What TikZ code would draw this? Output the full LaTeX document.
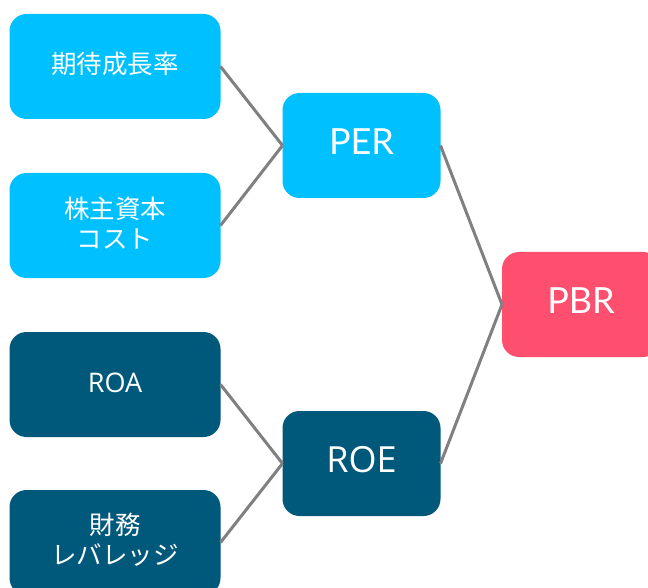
\documentclass[tikz,border=0pt]{standalone}
\usepackage{fontspec}
\setmainfont{Lato}
\newfontfamily\jpfont{Noto Sans CJK JP}
\newfontfamily\osfont{Open Sans}
\definecolor{lb}{HTML}{00C0FF}
\definecolor{db}{HTML}{00587A}
\definecolor{pk}{HTML}{FF4F6E}
\definecolor{ln}{HTML}{808080}
\begin{document}
\begin{tikzpicture}[x=1pt,y=-1pt,
  box/.style={rounded corners=17pt, inner sep=0pt, outer sep=0pt, minimum height=105pt},
  leftbox/.style={box, minimum width=211pt},
  midbox/.style={box, minimum width=158pt},
  light/.style={fill=lb},
  dark/.style={fill=db},
  pink/.style={fill=pk},
  jptxt/.style={text=white, align=center, font=\jpfont\fontsize{25.5}{30}\selectfont, inner sep=0pt},
  smalltxt/.style={text=white, font=\osfont\fontsize{27}{30}\selectfont, inner sep=0pt},
  bigtxt/.style={text=white, font=\fontsize{36}{40}\selectfont, inner sep=0pt},
  roetxt/.style={text=white, font=\osfont\fontsize{36}{40}\selectfont, inner sep=0pt},
  conn/.style={draw=ln, line width=3pt}
]
\useasboundingbox (0,0) rectangle (648,588);
\clip (0,0) rectangle (648,588);
\fill[white] (0,0) rectangle (648,588);

\node[leftbox, light] (q1) at (115,66.5) {};
\node[leftbox, light] (q2) at (115,225.5) {};
\node[leftbox, dark] (q3) at (115,384.5) {};
\node[leftbox, dark] (q4) at (115,542.5) {};
\node[midbox, light] (per) at (361.5,145.5) {};
\node[midbox, dark] (roe) at (361.5,463.5) {};
\node[midbox, pink] (pbr) at (581,304.5) {};

\node[jptxt] (t1) at ([yshift=3pt]q1.center) {期待成長率};
\node[jptxt] (t2) at ([yshift=2.5pt]q2.center) {株主資本\\コスト};
\node[smalltxt] (t3) at ([yshift=1.5pt]q3.center) {ROA};
\node[jptxt] (t4) at ([yshift=2.5pt]q4.center) {財務\\レバレッジ};
\node[bigtxt] (t5) at ([yshift=4pt]per.center) {PER};
\node[roetxt] (t6) at ([yshift=4pt]roe.center) {ROE};
\node[bigtxt] (t7) at ([yshift=4pt]pbr.center) {PBR};

\draw[conn] (q1.east) -- (per.west);
\draw[conn] (q2.east) -- (per.west);
\draw[conn] (q3.east) -- (roe.west);
\draw[conn] (q4.east) -- (roe.west);
\draw[conn] (per.east) -- (pbr.west);
\draw[conn] (roe.east) -- (pbr.west);
\end{tikzpicture}
\end{document}
